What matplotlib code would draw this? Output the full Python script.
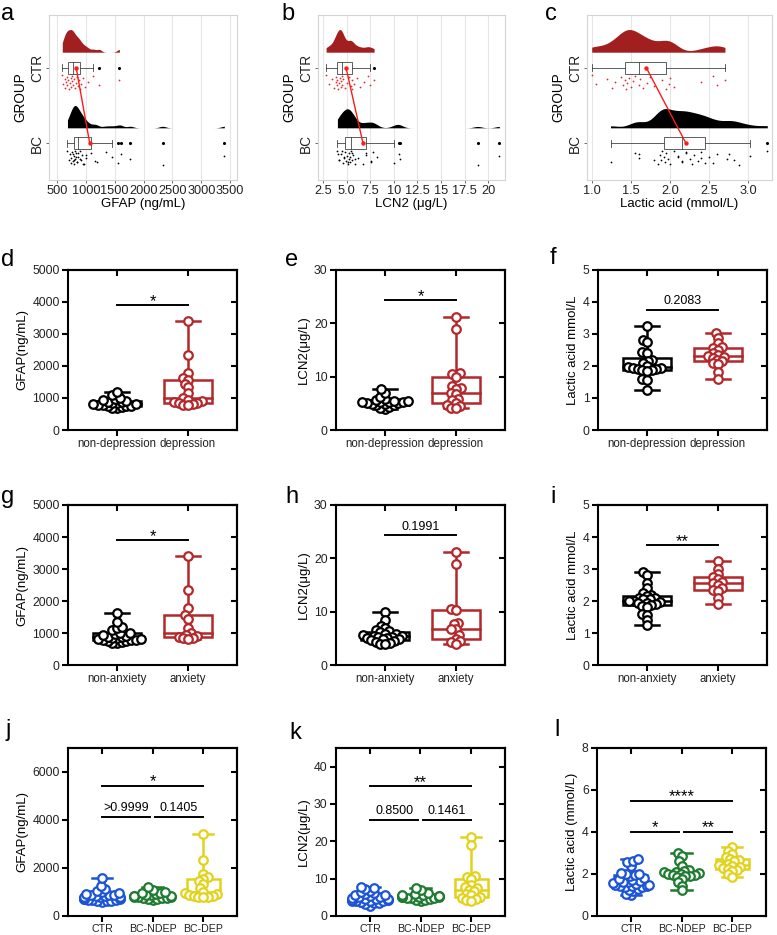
import numpy as np
import matplotlib
matplotlib.use("Agg")
import matplotlib.pyplot as plt
from matplotlib.patches import Rectangle

plt.rcParams['font.family'] = ['Liberation Sans', 'DejaVu Sans']

# ---- data ----
# GFAP (ng/mL)
gfap_ctr = [590, 610, 630, 645, 660, 670, 680, 690, 705, 720, 735, 745, 755, 765, 775,
            790, 805, 820, 840, 860, 875, 890, 920, 950, 990, 1040, 1130, 1230, 1580]
gfap_ndep = [680, 700, 720, 740, 750, 765, 780, 790, 800, 815, 830, 850, 870, 890, 910,
             940, 970, 1010, 1080, 1190]
gfap_dep = [3400, 2330, 1770, 1610, 1560, 1450, 1340, 1150, 1000, 950, 900, 870, 850,
            830, 810, 790, 780]
gfap_nonanx = [680, 700, 720, 740, 750, 770, 780, 790, 800, 815, 830, 850, 870, 890, 910,
               940, 970, 1000, 1010, 1080, 1150, 1190, 1340, 1610]
gfap_anx = [3400, 2330, 1770, 1560, 1450, 1160, 1000, 950, 900, 870, 850, 830, 810]

# LCN2 (ug/L)
lcn2_ctr = [2.8, 3.1, 3.4, 3.6, 3.8, 3.9, 4.0, 4.0, 4.1, 4.2, 4.3, 4.4, 4.4, 4.5, 4.5,
            4.6, 4.8, 5.0, 5.2, 5.4, 5.5, 5.5, 5.8, 6.1, 6.4, 6.8, 7.2, 7.45, 7.9]
lcn2_ndep = [4.0, 4.2, 4.4, 4.6, 4.7, 4.8, 4.9, 5.0, 5.1, 5.2, 5.2, 5.3, 5.3, 5.4, 5.5,
             5.7, 5.9, 6.2, 7.0, 7.6]
lcn2_dep = [21.2, 18.9, 10.6, 10.5, 10.0, 8.2, 7.8, 7.6, 7.0, 6.7, 5.9, 5.6, 5.1, 4.7,
            4.5, 4.2, 4.1]
lcn2_nonanx = [9.9, 8.4, 7.4, 7.0, 6.6, 6.3, 6.1, 5.9, 5.8, 5.6, 5.5, 5.4, 5.3, 5.2, 5.1,
               5.0, 4.9, 4.8, 4.6, 4.5, 4.4, 4.2, 4.0, 4.0]
lcn2_anx = [21.2, 18.9, 10.5, 10.4, 7.8, 7.6, 6.8, 6.8, 5.6, 4.9, 4.5, 4.3, 4.0]

# Lactic acid (mmol/L)
lac_ctr = [1.0, 1.05, 1.2, 1.26, 1.3, 1.38, 1.4, 1.42, 1.44, 1.45, 1.47, 1.5, 1.53, 1.55,
           1.6, 1.62, 1.65, 1.7, 1.75, 1.8, 1.9, 1.95, 1.98, 2.0, 2.05, 2.4, 2.55, 2.6, 2.7]
lac_ndep = [3.24, 2.82, 2.75, 2.44, 2.4, 2.2, 2.15, 2.1, 2.0, 1.97, 1.95, 1.93, 1.92, 1.9,
            1.88, 1.87, 1.85, 1.6, 1.55, 1.24]
lac_dep = [3.02, 2.88, 2.72, 2.6, 2.55, 2.5, 2.4, 2.35, 2.3, 2.28, 2.25, 2.2, 2.15, 2.1,
           2.05, 1.8, 1.6]
lac_nonanx = [2.9, 2.8, 2.55, 2.4, 2.25, 2.2, 2.15, 2.1, 2.1, 2.05, 2.05, 2.0, 2.0, 1.97,
              1.95, 1.93, 1.9, 1.88, 1.85, 1.8, 1.6, 1.55, 1.4, 1.24]
lac_anx = [3.25, 3.0, 2.85, 2.75, 2.7, 2.6, 2.55, 2.5, 2.4, 2.35, 2.3, 2.1, 1.9]
lac_l_ndep = [3.0, 2.85, 2.6, 2.4, 2.2, 2.15, 2.1, 2.08, 2.05, 2.0, 2.0, 1.97, 1.95, 1.92,
              1.9, 1.85, 1.75, 1.6, 1.45, 1.22]
lac_l_dep = [3.27, 3.1, 2.95, 2.8, 2.7, 2.65, 2.6, 2.5, 2.45, 2.4, 2.35, 2.3, 2.25, 2.2,
             2.15, 2.0, 1.85]

two_dep = ['non-depression', 'depression']
two_anx = ['non-anxiety', 'anxiety']
three = ['CTR', 'BC-NDEP', 'BC-DEP']

RED = '#b2282b'
DARKRED = '#a11f1f'
BLUE = '#1c54d6'
GREEN = '#1e7b30'
YELLOW = '#e3d21b'

W, H = 777, 935
fig = plt.figure(figsize=(W / 100, H / 100), dpi=100)


def add_ax(x0, y0, x1, y1):
    return fig.add_axes([x0 / W, 1 - y1 / H, (x1 - x0) / W, (y1 - y0) / H])


def kde(v, grid, adjust=0.6):
    n = len(v)
    iqr = np.subtract(*np.percentile(v, [75, 25]))
    bw = adjust * 0.9 * min(np.std(v, ddof=1), iqr / 1.34) * n ** -0.2
    z = (grid[:, None] - v[None, :]) / bw
    return np.exp(-0.5 * z ** 2).sum(axis=1) / (n * bw * np.sqrt(2 * np.pi))


def raincloud(ax, ctr, bc, xlim, xticks, xticklabels, xlabel):
    ax.set_xlim(*xlim)
    ax.set_ylim(0.515, 2.697)
    groups = [(2, np.asarray(ctr, float), DARKRED, '#e8262a'),
              (1, np.asarray(bc, float), 'black', 'black')]
    dens = []
    for y0, v, fc, pc in groups:
        grid = np.linspace(v.min(), v.max(), 400)
        dens.append((grid, kde(v, grid)))
    scale = 0.30 / max(d.max() for _, d in dens)
    means = []
    bh = 0.155
    for (y0, v, fc, pc), (grid, d) in zip(groups, dens):
        base = y0 + 0.205
        ax.fill_between(grid, base, base + d * scale, color=fc, lw=0, zorder=2)
        q1, med, q3 = np.percentile(v, [25, 50, 75])
        iqr = q3 - q1
        lo = v[v >= q1 - 1.5 * iqr].min()
        hi = v[v <= q3 + 1.5 * iqr].max()
        ax.add_patch(Rectangle((q1, y0 - bh / 2), q3 - q1, bh, fc='white',
                               ec='#444444', lw=0.6, zorder=3))
        ax.plot([med, med], [y0 - bh / 2, y0 + bh / 2], color='#444444', lw=0.6, zorder=3)
        ax.plot([lo, q1], [y0, y0], color='#444444', lw=0.6, zorder=3)
        ax.plot([q3, hi], [y0, y0], color='#444444', lw=0.6, zorder=3)
        for w in (lo, hi):
            ax.plot([w, w], [y0 - bh * 0.3, y0 + bh * 0.3], color='#444444', lw=0.6, zorder=3)
        out = v[(v < lo) | (v > hi)]
        ax.scatter(out, np.full(len(out), y0), s=5, color='black', lw=0, zorder=4)
        frac = (np.arange(len(v)) * 0.618034) % 1
        ax.scatter(v, y0 - (0.10 + 0.19 * frac), s=1.6, color=pc, lw=0, zorder=2)
        means.append((v.mean(), y0))
    ax.plot([m for m, _ in means], [y for _, y in means], color='#ff1a1a', lw=1, zorder=5)
    ax.scatter([m for m, _ in means], [y for _, y in means], s=10, color='#ff1a1a',
               lw=0, zorder=6)
    ax.set_xticks(xticks)
    ax.set_xticklabels(xticklabels, fontsize=9.2, color='#222222')
    ax.set_yticks([1, 2])
    ax.set_yticklabels(['BC', 'CTR'], rotation=90, va='center', fontsize=9.8, color='#222222')
    ax.set_xlabel(xlabel, fontsize=9.5, labelpad=1)
    ax.set_ylabel('GROUP', fontsize=9.8, labelpad=2)
    ax.grid(axis='x', color='#e6e6e6', lw=0.8)
    ax.set_axisbelow(True)
    for s in ax.spines.values():
        s.set_color('#d4d4d4')
        s.set_linewidth(0.8)
    ax.tick_params(length=2, width=0.6, color='#555555', pad=1.5)


def swarm(ax, vals, d_px, max_off):
    pos = ax.get_position()
    x0, x1 = ax.get_xlim()
    y0, y1 = ax.get_ylim()
    xs = pos.width * W / (x1 - x0)
    ys = pos.height * H / (y1 - y0)
    ypx = np.asarray(vals, float) * ys
    offs = np.zeros(len(ypx))
    px, py = [], []
    for idx in np.argsort(ypx):
        y = ypx[idx]
        cands = [0.0]
        ints = []
        for a, b in zip(px, py):
            dy = abs(y - b)
            if dy < d_px:
                dx = np.sqrt(d_px ** 2 - dy ** 2)
                ints.append((a - dx, a + dx))
                cands += [a - dx, a + dx]
        ok = [c for c in cands if all(not (l + 1e-6 < c < r - 1e-6) for l, r in ints)]
        best = min(ok, key=abs)
        px.append(best)
        py.append(y)
        offs[idx] = best
    return np.clip(offs / xs, -max_off, max_off)


def prism(ax, groups, colors, ylim, yticks, yticklabels, ylabel, labels, pad,
          brackets, box_w, cap_w, label_size):
    n = len(groups)
    ax.set_xlim(-pad, n - 1 + pad)
    ax.set_ylim(*ylim)
    for i, (vals, c) in enumerate(zip(groups, colors)):
        v = np.asarray(vals, float)
        q1, med, q3 = np.percentile(v, [25, 50, 75])
        ax.add_patch(Rectangle((i - box_w / 2, q1), box_w, q3 - q1, fill=False, ec=c,
                               lw=1.8, zorder=2))
        ax.plot([i - box_w / 2, i + box_w / 2], [med, med], color=c, lw=1.8, zorder=2)
        ax.plot([i, i], [v.min(), q1], color=c, lw=1.8, zorder=2)
        ax.plot([i, i], [q3, v.max()], color=c, lw=1.8, zorder=2)
        for w in (v.min(), v.max()):
            ax.plot([i - cap_w / 2, i + cap_w / 2], [w, w], color=c, lw=1.8, zorder=2)
        offs = swarm(ax, v, 4.8, box_w * 0.55)
        ax.scatter(i + offs, v, s=38, facecolor='white', edgecolor=c, linewidth=1.6,
                   zorder=3)
    for a, b, y, txt in brackets:
        ax.plot([a, b], [y, y], color='black', lw=1.4)
        if set(txt) == {'*'}:
            ax.annotate(txt, xy=((a + b) / 2, y), xytext=(0, -0.5),
                        textcoords='offset points', ha='center', va='baseline',
                        fontsize=12)
        else:
            ax.annotate(txt, xy=((a + b) / 2, y), xytext=(0, 4.2),
                        textcoords='offset points', ha='center', va='baseline',
                        fontsize=9)
    ax.set_xticks(range(n))
    ax.set_xticklabels(labels, fontsize=label_size, color='#222222')
    ax.set_yticks(yticks)
    ax.set_yticklabels(yticklabels, fontsize=8.8, color='#222222')
    ax.set_ylabel(ylabel, fontsize=9.5, labelpad=3)
    for s in ax.spines.values():
        s.set_linewidth(1.5)
    ax.tick_params(direction='out', length=4, width=1.5, pad=2)
    top = ax.secondary_xaxis('top')
    top.set_xticks(range(n))
    top.tick_params(direction='in', length=4, width=1.5, labeltop=False)
    top.spines['top'].set_linewidth(1.5)
    right = ax.secondary_yaxis('right')
    right.set_yticks(yticks)
    right.tick_params(direction='in', length=4, width=1.5, labelright=False)
    right.spines['right'].set_linewidth(1.5)


# ---- row 1: rainclouds ----
ax = add_ax(49, 15, 237, 180)
raincloud(ax, gfap_ctr, gfap_ndep + gfap_dep, (360, 3620),
          [500, 1000, 1500, 2000, 2500, 3000, 3500],
          ['500', '1000', '1500', '2000', '2500', '3000', '3500'], 'GFAP (ng/mL)')
ax = add_ax(318, 15, 505, 180)
raincloud(ax, lcn2_ctr, lcn2_ndep + lcn2_dep, (1.94, 21.8),
          [2.5, 5, 7.5, 10, 12.5, 15, 17.5, 20],
          ['2.5', '5.0', '7.5', '10', '12.5', '15', '17.5', '20'], 'LCN2 (μg/L)')
ax = add_ax(587, 15, 772, 180)
raincloud(ax, lac_ctr, lac_ndep + lac_dep, (0.94, 3.3),
          [1.0, 1.5, 2.0, 2.5, 3.0], ['1.0', '1.5', '2.0', '2.5', '3.0'],
          'Lactic acid (mmol/L)')

# ---- rows 2 and 3 ----
gf_ticks = [0, 1000, 2000, 3000, 4000, 5000]
ln_ticks = [0, 10, 20, 30]
la_ticks = [0, 1, 2, 3, 4, 5]
rows = [
    (270, 430, two_dep, [gfap_ndep, gfap_dep], [lcn2_ndep, lcn2_dep], [lac_ndep, lac_dep],
     '*', '*', '0.2083'),
    (505, 665, two_anx, [gfap_nonanx, gfap_anx], [lcn2_nonanx, lcn2_anx],
     [lac_nonanx, lac_anx], '*', '0.1991', '**'),
]
for top_px, bot_px, labels, g, l, la, s1, s2, s3 in rows:
    ax = add_ax(68, top_px, 237, bot_px)
    prism(ax, g, ['black', RED], (0, 5000), gf_ticks, [str(t) for t in gf_ticks],
          'GFAP(ng/mL)', labels, 0.69, [(0, 1, 3900, s1)], 0.67, 0.33, 8.3)
    ax = add_ax(336, top_px, 505, bot_px)
    prism(ax, l, ['black', RED], (0, 30), ln_ticks, [str(t) for t in ln_ticks],
          'LCN2(μg/L)', labels, 0.69, [(0, 1, 24.3, s2)], 0.67, 0.33, 8.3)
    ax = add_ax(598, top_px, 767, bot_px)
    prism(ax, la, ['black', RED], (0, 5), la_ticks, [str(t) for t in la_ticks],
          'Lactic acid mmol/L', labels, 0.69, [(0, 1, 3.74, s3)], 0.67, 0.33, 8.3)

# ---- row 4 ----
cols3 = [BLUE, GREEN, YELLOW]
ax = add_ax(68, 748, 237, 916)
prism(ax, [gfap_ctr, gfap_ndep, gfap_dep], cols3, (0, 7000), [0, 2000, 4000, 6000],
      ['0', '2000', '4000', '6000'], 'GFAP(ng/mL)', three, 0.67,
      [(0, 2, 5420, '*'), (0, 0.96, 4130, '>0.9999'), (1.04, 2, 4130, '0.1405')],
      0.65, 0.41, 7.7)
ax = add_ax(336, 748, 505, 916)
prism(ax, [lcn2_ctr, lcn2_ndep, lcn2_dep], cols3, (0, 45), [0, 10, 20, 30, 40],
      ['0', '10', '20', '30', '40'], 'LCN2(μg/L)', three, 0.67,
      [(0, 2, 34.7, '**'), (0, 0.96, 25.8, '0.8500'), (1.04, 2, 25.8, '0.1461')],
      0.65, 0.41, 7.7)
ax = add_ax(597, 748, 766, 916)
prism(ax, [lac_ctr, lac_l_ndep, lac_l_dep], cols3, (0, 8), [0, 2, 4, 6, 8],
      ['0', '2', '4', '6', '8'], 'Lactic acid (mmol/L)', three, 0.67,
      [(0, 2, 5.49, '****'), (0, 0.96, 4.02, '*'), (1.04, 2, 4.02, '**')],
      0.65, 0.41, 7.7)

# ---- panel letters ----
letters = [('a', 8, 14), ('b', 288, 14), ('c', 551, 14),
           ('d', 8, 260), ('e', 292, 260), ('f', 553, 258),
           ('g', 8, 497), ('h', 292, 497), ('i', 553, 497),
           ('j', 8, 730), ('k', 295, 733), ('l', 557, 730)]
for t, x, y in letters:
    fig.text(x / W, 1 - y / H, t, fontsize=17, ha='center', va='center')

fig.savefig('out.png', dpi=100)
